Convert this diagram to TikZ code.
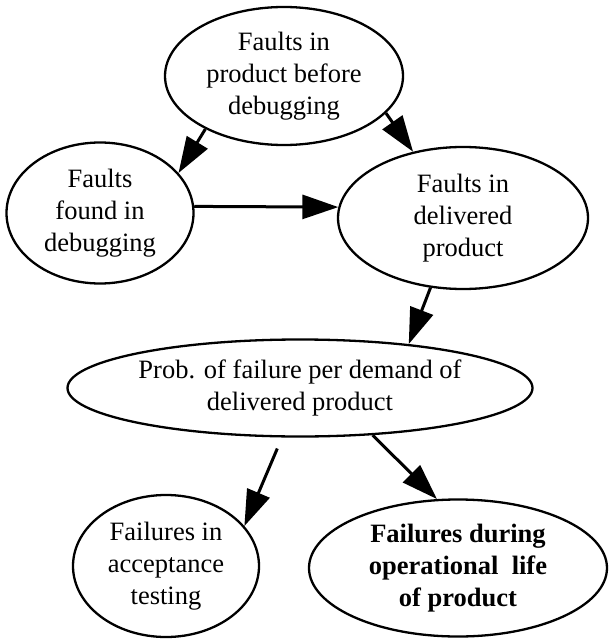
\documentclass[tikz,border=0pt]{standalone}
\usepackage{fontspec}
\setmainfont{Liberation Serif}
\usetikzlibrary{shapes.geometric,arrows.meta}

\begin{document}
\begin{tikzpicture}[x=1pt,y=-1pt,
  bubble/.style={draw,ellipse,line width=2.3pt,inner sep=0pt,align=center,
    font=\fontsize{26.5}{32}\selectfont},
  link/.style={line width=3pt,-{Triangle[length=36pt,width=24pt]}}]

\useasboundingbox (0,0) rectangle (610,639);

\node[bubble,minimum width=238pt,minimum height=138pt] (before) at (284,76) {Faults in\\product before\\debugging};
\node[bubble,minimum width=187pt,minimum height=141pt] (found) at (100,213) {Faults\\found in\\debugging};
\node[bubble,minimum width=250pt,minimum height=142pt] (delivered) at (463,218) {Faults in\\delivered\\product};
\node[bubble,minimum width=465pt,minimum height=97pt] (pfd) at (300,388) {Prob. of failure per demand of\\delivered product};
\node[bubble,minimum width=186pt,minimum height=142pt] (accept) at (166,566) {Failures in\\acceptance\\testing};
\node[bubble,minimum width=298pt,minimum height=137pt,font=\fontsize{26.5}{32}\selectfont\bfseries] (operational) at (458,568) {Failures during\\operational\ \ life\\of product};

\draw[link] (before.214) -- (found.27);
\draw[link] (before.340) -- (delivered.127);
\draw[link] (found.4) -- (delivered.175);
\draw[link] (delivered.245) -- (pfd.22);
\draw[link,shorten <=12pt] (pfd.250) -- (accept.27);
\draw[link] (pfd.327) -- (operational.107);

\end{tikzpicture}
\end{document}
